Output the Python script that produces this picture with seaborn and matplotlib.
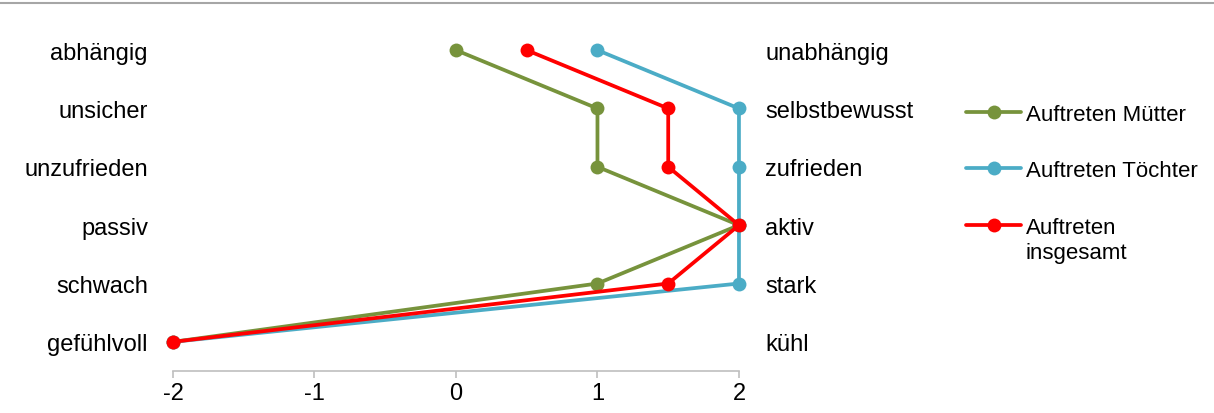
import pandas as pd
import matplotlib
matplotlib.use("Agg")
import matplotlib.pyplot as plt
import seaborn as sns

# Eigenschaftspaare (unten -> oben)
links = ["gefühlvoll", "schwach", "passiv", "unzufrieden", "unsicher", "abhängig"]
rechts = ["kühl", "stark", "aktiv", "zufrieden", "selbstbewusst", "unabhängig"]

muetter = [-2, 1, 2, 1, 1, 0]
toechter = [-2, 2, 2, 2, 2, 1]
insgesamt = [-2, 1.5, 2, 1.5, 1.5, 0.5]

serien = ["Auftreten Mütter", "Auftreten Töchter", "Auftreten\ninsgesamt"]
farben = ["#77933C", "#4BACC6", "#FF0000"]

rows = []
for name, werte in zip(serien, [muetter, toechter, insgesamt]):
    for i, w in enumerate(werte):
        rows.append({"serie": name, "pos": i, "wert": w})
df = pd.DataFrame(rows)

sns.set_style("white")
plt.rcParams["font.family"] = ["Liberation Sans", "DejaVu Sans"]
plt.rcParams["text.color"] = "black"
fs = 17

fig = plt.figure(figsize=(12.14, 4.14), dpi=100)
ax = fig.add_axes([0.1425, 0.1014, 0.4662, 0.8455])

sns.lineplot(data=df, x="wert", y="pos", hue="serie", palette=farben,
             sort=False, orient="y", marker="o", markersize=10,
             markeredgewidth=0, linewidth=2.7, estimator=None, ax=ax)

ax.set_xlim(-2, 2)
ax.set_ylim(-0.5, 5.5)
ax.set_xticks([-2, -1, 0, 1, 2])
ax.set_xticklabels(["-2", "-1", "0", "1", "2"])
ax.set_yticks(range(len(links)))
ax.set_yticklabels(links)
ax.set_xlabel("")
ax.set_ylabel("")
for s in ["top", "right", "left"]:
    ax.spines[s].set_visible(False)
ax.spines["bottom"].set_color("#BFBFBF")
ax.spines["bottom"].set_linewidth(1.2)
ax.tick_params(axis="x", bottom=True, length=5, width=1.2, color="#BFBFBF",
               labelsize=fs, labelcolor="black", pad=3)
ax.tick_params(axis="y", length=0, labelsize=fs, labelcolor="black", pad=18)
for c in ax.lines:
    c.set_clip_on(False)

ax2 = ax.twinx()
ax2.set_ylim(ax.get_ylim())
ax2.set_yticks(range(len(rechts)))
ax2.set_yticklabels(rechts)
ax2.tick_params(axis="y", length=0, labelsize=fs, labelcolor="black", pad=19)
for s in ["top", "right", "left", "bottom"]:
    ax2.spines[s].set_visible(False)

handles, labels = ax.get_legend_handles_labels()
ax.get_legend().remove()
leg = fig.legend(handles, labels, loc="upper left", bbox_to_anchor=(0.7795, 0.795),
                 frameon=False, fontsize=16, handlelength=2.45, handletextpad=0.22,
                 labelspacing=1.6)
for t in leg.get_texts():
    t.set_linespacing(1.25)
# Symbol an der ersten Textzeile ausrichten
for col in leg._legend_handle_box.get_children():
    for item in col.get_children():
        item.align = "top"

fig.add_artist(plt.Line2D([0, 1], [0.99, 0.99], color="#A6A6A6", linewidth=1.5,
                          transform=fig.transFigure))

fig.savefig("out.png", dpi=100)
